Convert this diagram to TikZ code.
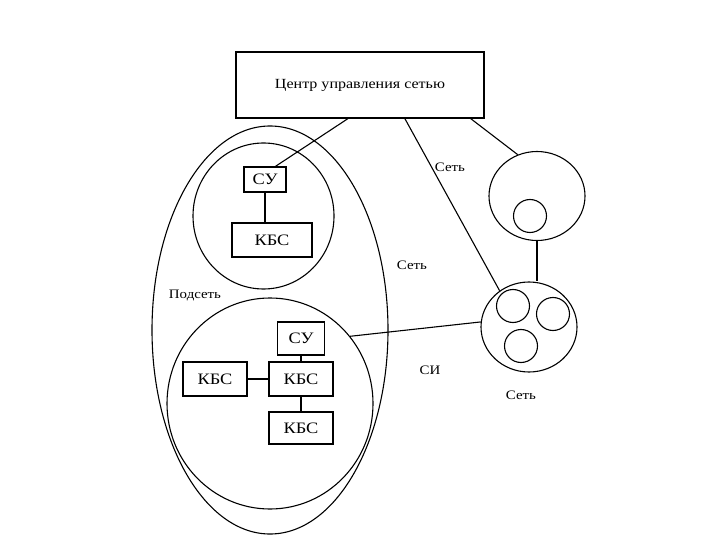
\documentclass[tikz,border=0pt]{standalone}
\usepackage{fontspec}
\setmainfont[FakeStretch=1.15]{Liberation Serif}
\usetikzlibrary{shapes.geometric,calc}

\begin{document}
\begin{tikzpicture}[x=1bp,y=-1bp,line width=1.1bp,
  every node/.style={font=\fontsize{13}{15}\selectfont},
  blk/.style={draw,inner sep=0,font=\fontsize{16}{18}\selectfont},
  ring/.style={draw,ellipse,inner sep=0}]
\useasboundingbox (0,0) rectangle (720,540);
% центр управления
\node[draw,inner sep=0,minimum width=248bp,minimum height=66bp,font=\fontsize{14}{16}\selectfont] (ncc) at (360,85) {Центр управления сетью};
% подсеть
\node[ring,minimum width=236bp,minimum height=408bp] (sub) at (270,330) {};
\node[ring,minimum width=141bp,minimum height=146bp] (sub1) at (263.5,216) {};
\node[ring,minimum width=206bp,minimum height=211bp] (sub2) at (270,403.5) {};
\node[blk,minimum width=42bp,minimum height=25bp] (su1) at (265,179.5) {СУ};
\node[blk,minimum width=80bp,minimum height=34bp] (kbs1) at (272,240) {КБС};
\node[blk,minimum width=47bp,minimum height=33bp] (su2) at (301,338.5) {СУ};
\node[blk,minimum width=64bp,minimum height=34bp] (kbs2) at (301,379) {КБС};
\node[blk,minimum width=64bp,minimum height=34bp] (kbs3) at (215,379) {КБС};
\node[blk,minimum width=64bp,minimum height=32bp] (kbs4) at (301,428) {КБС};
% сети справа
\node[ring,minimum width=96bp,minimum height=89bp] (netA) at (537,196) {};
\node[ring,minimum size=33bp] (a1) at (530,216) {};
\node[ring,minimum width=96bp,minimum height=90bp] (netB) at (529,327) {};
\node[ring,minimum size=33bp] (b1) at (513,306) {};
\node[ring,minimum size=33bp] (b2) at (553,314) {};
\node[ring,minimum size=33bp] (b3) at (521,346) {};
% подписи
\node (lnet1) at (450,167) {Сеть};
\node (lnet2) at (412,265) {Сеть};
\node (lsi) at (430,370) {СИ};
\node (lnet3) at (521,395) {Сеть};
\node (lsub) at (195,296) {Подсеть};
% связи
\draw ($(ncc.south west)!.452!(ncc.south east)$) -- ($(su1.north west)!.74!(su1.north east)$);
\draw ($(ncc.south west)!.68!(ncc.south east)$) -- (netB.129);
\draw ($(ncc.south west)!.944!(ncc.south east)$) -- (netA.115);
\draw (netA.south) -- (netA.south |- netB.north);
\draw (sub2.40) -- (netB.174);
\draw (su1.south) -- (su1.south |- kbs1.north);
\draw (su2.south) -- (kbs2.north);
\draw (kbs3.east) -- (kbs2.west);
\draw (kbs2.south) -- (kbs4.north);
\end{tikzpicture}
\end{document}
